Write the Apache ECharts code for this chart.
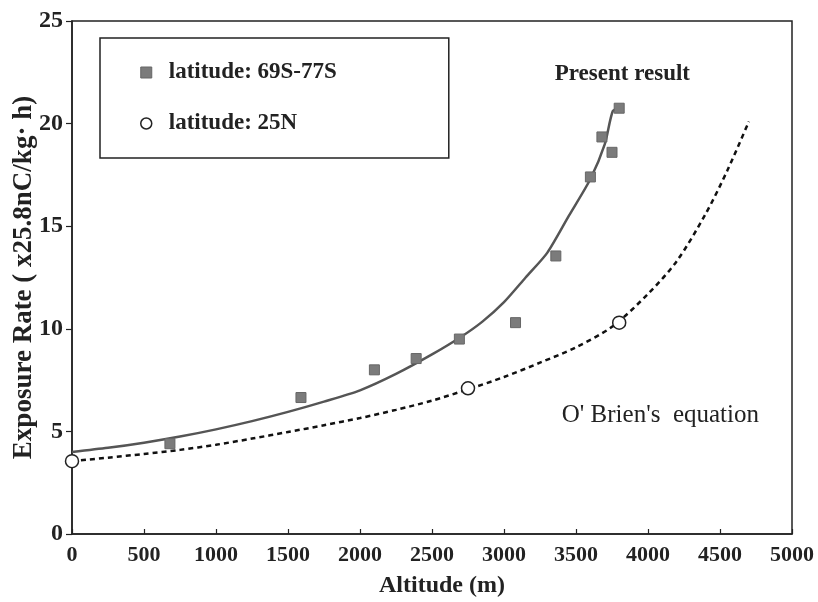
<!DOCTYPE html>
<html>
<head>
<meta charset="utf-8">
<script src="https://cdn.jsdelivr.net/npm/echarts@6/dist/echarts.min.js"></script>
<style>html,body{margin:0;padding:0;background:#fff}#c{width:818px;height:602px}</style>
</head>
<body>
<div id="c"></div>
<script>
// Measured points, latitude 69S-77S (squares)
const southAlt = [680, 1590, 2100, 2390, 2690, 3080, 3360, 3600, 3680, 3750, 3800];
const southRate = [4.4, 6.65, 8.0, 8.55, 9.5, 10.3, 13.55, 17.4, 19.35, 18.6, 20.75];
// Measured points, latitude 25N (circles)
const northAlt = [0, 2750, 3800];
const northRate = [3.55, 7.1, 10.3];
// Present result curve (solid)
const presentAlt = [0, 250, 500, 750, 1000, 1250, 1500, 1750, 2000, 2250, 2500, 2700, 2850, 3000, 3150, 3300, 3450, 3600, 3700, 3755, 3800];
const presentRate = [4.0, 4.2, 4.45, 4.75, 5.1, 5.5, 5.95, 6.45, 7.0, 7.8, 8.75, 9.6, 10.35, 11.3, 12.5, 13.7, 15.5, 17.3, 19.0, 20.6, 20.75];
// O'Brien's equation curve (dashed)
const obrienAlt = [0, 250, 500, 750, 1000, 1250, 1500, 1750, 2000, 2250, 2500, 2750, 3000, 3250, 3500, 3750, 4000, 4200, 4400, 4550, 4700];
const obrienRate = [3.55, 3.72, 3.9, 4.1, 4.35, 4.65, 4.97, 5.3, 5.65, 6.05, 6.5, 7.05, 7.65, 8.35, 9.1, 10.1, 11.7, 13.3, 15.6, 17.7, 20.1];
// Tick label values
const xTicks = [0, 500, 1000, 1500, 2000, 2500, 3000, 3500, 4000, 4500, 5000];
const yTicks = [0, 5, 10, 15, 20, 25];

const zip = (a, b) => a.map((v, i) => [v, b[i]]);
const serif = 'Liberation Serif';
const ink = '#222';

const chart = echarts.init(document.getElementById('c'));
chart.setOption({
  animation: false,
  backgroundColor: '#fff',
  grid: { left: 72, right: 26, top: 21, bottom: 68, outerBoundsMode: 'none', containLabel: false, show: true, borderColor: ink, borderWidth: 1.5, backgroundColor: 'transparent' },
  legend: {
    left: 100, top: 38, orient: 'vertical',
    borderColor: ink, borderWidth: 1.5,
    padding: [23, 112, 23, 40],
    itemGap: 28, itemWidth: 11, itemHeight: 11,
    textStyle: { fontFamily: serif, fontWeight: 'bold', fontSize: 23, color: ink, padding: [0, 0, 0, 12] },
    data: [
      { name: 'latitude: 69S-77S', icon: 'rect', itemStyle: { color: '#7b7b7b', borderColor: '#666', borderWidth: 1 } },
      { name: 'latitude: 25N', icon: 'circle', itemStyle: { color: '#fff', borderColor: ink, borderWidth: 1.5 } }
    ]
  },
  xAxis: {
    type: 'value', min: xTicks[0], max: xTicks[xTicks.length - 1], interval: xTicks[1] - xTicks[0],
    name: 'Altitude (m)', nameLocation: 'middle', nameGap: 40, nameMoveOverlap: false,
    nameTextStyle: { fontFamily: serif, fontWeight: 'bold', fontSize: 24, color: ink, padding: [0, 0, 0, 20] },
    axisLine: { show: true, lineStyle: { color: ink, width: 1.5 } },
    axisTick: { show: true, inside: true, length: 5, lineStyle: { color: ink, width: 1.2 } },
    axisLabel: { fontFamily: serif, fontWeight: 'bold', fontSize: 22, color: ink, margin: 10, formatter: v => String(v) },
    splitLine: { show: false }
  },
  yAxis: {
    type: 'value', min: yTicks[0], max: yTicks[yTicks.length - 1], interval: yTicks[1] - yTicks[0],
    name: 'Exposure Rate ( x25.8nC/kg\u00b7 h)', nameLocation: 'middle', nameGap: 34, nameRotate: 90, nameMoveOverlap: false,
    nameTextStyle: { fontFamily: serif, fontWeight: 'bold', fontSize: 27, color: ink },
    axisLine: { show: true, lineStyle: { color: ink, width: 1.5 } },
    axisTick: { show: true, inside: false, length: 6, lineStyle: { color: ink, width: 1.2 } },
    axisLabel: { fontFamily: serif, fontWeight: 'bold', fontSize: 24, color: ink, margin: 9, formatter: v => String(v) },
    splitLine: { show: false }
  },
  series: [
    {
      name: 'Present result', type: 'line', data: zip(presentAlt, presentRate),
      smooth: 0.25, showSymbol: false, symbol: 'none',
      lineStyle: { color: '#555', width: 2.5 }, z: 2,
      markPoint: {
        symbol: 'circle', symbolSize: 1, itemStyle: { color: 'transparent' },
        label: { show: true, position: 'inside', formatter: 'Present result', fontFamily: serif, fontWeight: 'bold', fontSize: 23, color: ink },
        data: [{ coord: [3822, 22.4] }]
      }
    },
    {
      name: "O' Brien's equation", type: 'line', data: zip(obrienAlt, obrienRate),
      smooth: 0.3, showSymbol: false, symbol: 'none',
      lineStyle: { color: '#111', width: 2.5, type: [5, 4] }, z: 2,
      markPoint: {
        symbol: 'circle', symbolSize: 1, itemStyle: { color: 'transparent' },
        label: { show: true, position: 'inside', formatter: "O' Brien's  equation", fontFamily: serif, fontSize: 25, color: ink },
        data: [{ coord: [4086, 5.8] }]
      }
    },
    {
      name: 'latitude: 69S-77S', type: 'scatter', data: zip(southAlt, southRate),
      symbol: 'rect', symbolSize: 10,
      itemStyle: { color: '#7b7b7b', borderColor: '#666', borderWidth: 1, opacity: 1 }, z: 3
    },
    {
      name: 'latitude: 25N', type: 'scatter', data: zip(northAlt, northRate),
      symbol: 'circle', symbolSize: 13,
      itemStyle: { color: '#fff', borderColor: ink, borderWidth: 1.5, opacity: 1 }, z: 4
    }
  ]
});
</script>
</body>
</html>
